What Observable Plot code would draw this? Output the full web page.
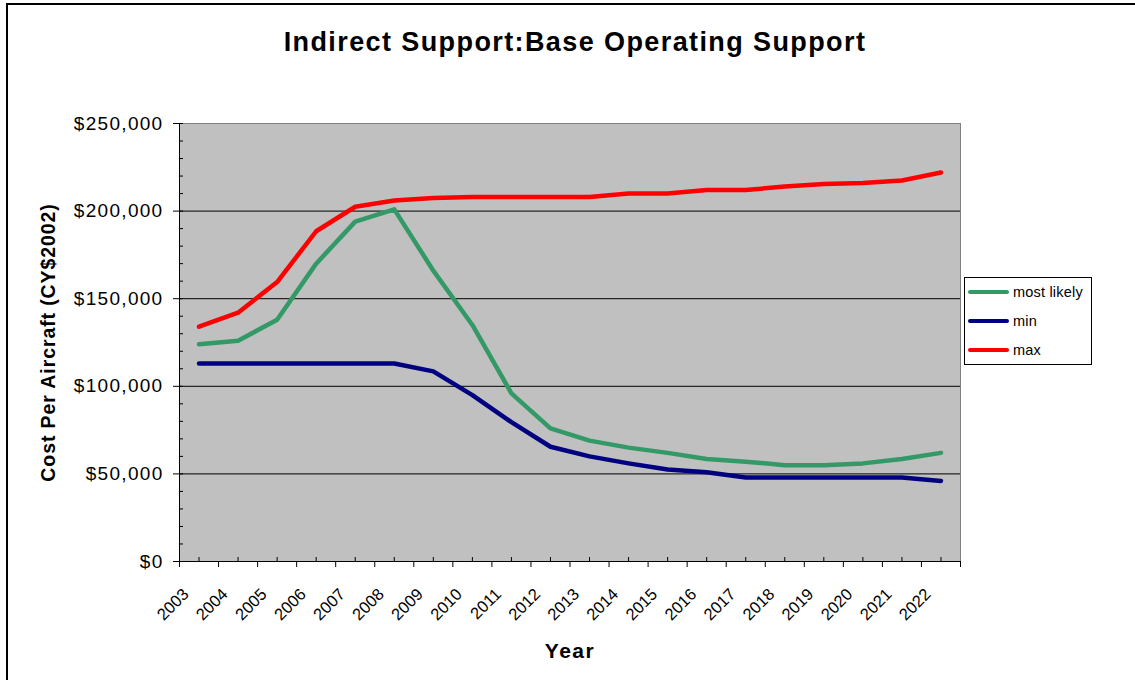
<!DOCTYPE html>
<html><head><meta charset="utf-8">
<script src="https://cdn.jsdelivr.net/npm/d3@7"></script>
<script src="https://cdn.jsdelivr.net/npm/@observablehq/plot@0.6"></script>
<style>
html,body{margin:0;padding:0;background:#fff;overflow:hidden;width:1135px;height:680px;}
#wrap{position:relative;width:1135px;height:680px;font-family:"Liberation Sans",Arial,sans-serif;color:#000;}
#border{position:absolute;left:6px;top:3px;width:1200px;height:800px;border:2px solid #000;box-sizing:border-box;}
#chart{position:absolute;left:0;top:0;}
#title{position:absolute;left:0;width:1150px;top:29px;line-height:27px;text-align:center;font-weight:bold;font-size:27px;letter-spacing:1.4px;white-space:nowrap;}
#legend{position:absolute;left:964px;top:277px;width:128px;height:88px;border:1px solid #000;box-sizing:border-box;background:#fff;font-size:14.5px;letter-spacing:0.2px;}
.item{position:absolute;left:3px;height:16px;display:flex;align-items:center;white-space:nowrap;}
.swatch{width:41px;height:4px;border-radius:2px;margin-right:4px;}
</style>
</head><body>
<div id="wrap">
  <div id="border"></div>
  <div id="chart"></div>
  <div id="title"></div>
  <div id="legend"></div>
</div>
<script>
// ---- data ----
const title = "Indirect Support:Base Operating Support";
const yTitle = "Cost Per Aircraft (CY$2002)";
const xTitle = "Year";
const years = [2003, 2004, 2005, 2006, 2007, 2008, 2009, 2010, 2011, 2012,
               2013, 2014, 2015, 2016, 2017, 2018, 2019, 2020, 2021, 2022];
const mostLikely = [124000, 126000, 138000, 170000, 194000, 201000, 166000, 135000, 96000, 76000,
                    69000, 65000, 62000, 58500, 57000, 55000, 55000, 56000, 58500, 62000];
const minValues = [113000, 113000, 113000, 113000, 113000, 113000, 108500, 95000, 79500, 65500,
                   60000, 56000, 52500, 51000, 48000, 48000, 48000, 48000, 48000, 46000];
const maxValues = [134000, 142000, 159500, 188500, 202500, 206000, 207500, 208000, 208000, 208000,
                   208000, 210000, 210000, 212000, 212000, 214000, 215500, 216000, 217500, 222000];
const seriesNames = ["most likely", "min", "max"];
const seriesColors = ["#339966", "#000080", "#FF0000"];
const yTickValues = [0, 50000, 100000, 150000, 200000, 250000];

// ---- build ----
const seriesValues = [mostLikely, minValues, maxValues];
const rows = [];
seriesNames.forEach((name, s) => years.forEach((yr, i) => rows.push({series: name, year: yr, value: seriesValues[s][i]})));
const xBounds = [years[0] - 0.5, ...years.map(y => y + 0.5)];
const yMinor = d3.range(0, 250001, 10000);
const gridValues = yTickValues.filter(v => v > 0 && v < 250000);
const fmt = d3.format("$,");
const font = '"Liberation Sans", Arial, sans-serif';

const chart = Plot.plot({
  width: 1135, height: 680,
  marginLeft: 179, marginRight: 175, marginTop: 123, marginBottom: 119,
  style: {fontFamily: font, background: "transparent", color: "#000", overflow: "visible"},
  x: {type: "linear", domain: [years[0] - 0.5, years[years.length - 1] + 0.5], axis: null},
  y: {domain: [0, 250000], axis: null},
  color: {domain: seriesNames, range: seriesColors},
  marks: [
    Plot.frame({fill: "#C0C0C0", stroke: null}),
    Plot.ruleY(gridValues, {stroke: "#000", strokeWidth: 1}),
    Plot.frame({stroke: "#808080"}),
    Plot.line(rows, {x: "year", y: "value", z: "series", stroke: "series", strokeWidth: 4.5, strokeLinejoin: "round", strokeLinecap: "round"}),
    Plot.ruleX([years[0] - 0.5], {stroke: "#000"}),
    Plot.ruleY([0], {stroke: "#000"}),
    Plot.axisY({ticks: yTickValues, tickSize: 6, tickPadding: 10, tickFormat: fmt, fontSize: 19, label: null}),
    Plot.axisY({ticks: yMinor, tickSize: 4, dx: 4, tickFormat: () => "", label: null}),
    Plot.axisX({ticks: xBounds, tickSize: 6, tickFormat: () => "", label: null}),
    Plot.axisX({ticks: years, tickSize: 4, dy: -4, tickFormat: () => "", label: null}),
    Plot.text(years, {x: d => d, frameAnchor: "bottom", rotate: -45, textAnchor: "end", lineAnchor: "middle", dx: -13, dy: 30, fontSize: 16.5, text: d => String(d)}),
    Plot.text([yTitle], {frameAnchor: "left", textAnchor: "middle", rotate: -90, dx: -131, fontWeight: "bold", fontSize: 19.5, text: d => d}),
    Plot.text([xTitle], {frameAnchor: "bottom", textAnchor: "middle", dy: 96, lineAnchor: "bottom", fontWeight: "bold", fontSize: 21, text: d => d})
  ]
});
document.getElementById("chart").appendChild(chart);
const spacing = t => years.map(String).includes(t) ? 0 : t === yTitle ? 0.9 : t === xTitle ? 1.5 : t.startsWith("$") ? 1.3 : 0;
d3.select(chart).selectAll("text").each(function() {
  this.style.letterSpacing = spacing(this.textContent) + "px";
});

document.getElementById("title").textContent = title;
const legend = d3.select("#legend");
const tops = [6, 35, 64];
seriesNames.forEach((name, i) => {
  const item = legend.append("div").attr("class", "item").style("top", tops[i] + "px");
  item.append("div").attr("class", "swatch").style("background", seriesColors[i]);
  item.append("span").text(name);
});
</script>
</body></html>
